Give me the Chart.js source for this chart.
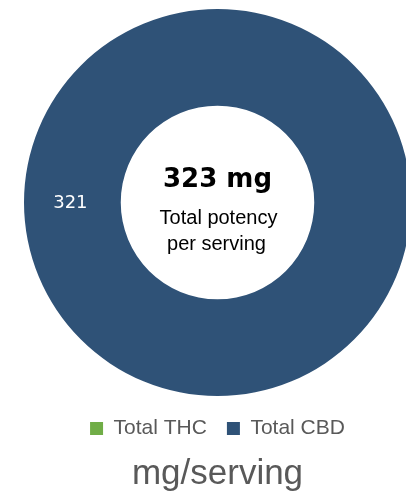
<!DOCTYPE html>
<html>
<head>
<meta charset="utf-8">
<script src="https://cdn.jsdelivr.net/npm/chart.js@4.4.0/dist/chart.umd.min.js"></script>
<style>
  html, body { margin: 0; padding: 0; background: #fff; overflow: hidden; }
  #wrap { width: 412px; height: 495px; }
</style>
</head>
<body>
<div id="wrap"><canvas id="potencyChart"></canvas></div>
<script>
var labels = ['Total THC', 'Total CBD'];
var values = [0, 321];
var colors = ['#70AD47', '#2F5277'];
var totalText = '323 mg';
var subText = ['Total potency', 'per serving'];

// numbers on the ring
var ringLabels = {
    id: 'ringLabels',
    afterDatasetsDraw: function(chart) {
        var ctx = chart.ctx;
        var meta = chart.getDatasetMeta(0);
        ctx.save();
        ctx.fillStyle = '#ffffff';
        ctx.font = '18px "DejaVu Sans"';
        ctx.textAlign = 'center';
        ctx.textBaseline = 'middle';
        meta.data.forEach(function(arc, i) {
            if (!values[i]) return;
            var p = arc.getCenterPoint();
            ctx.fillText(values[i], p.x - 2, p.y + 1);
        });
        ctx.restore();
    }
};

// text in the hole
var centerText = {
    id: 'centerText',
    afterDraw: function(chart) {
        var ctx = chart.ctx;
        var arc = chart.getDatasetMeta(0).data[0];
        var x = arc.x, y = arc.y;
        ctx.save();
        ctx.fillStyle = '#000000';
        ctx.textAlign = 'center';
        ctx.textBaseline = 'middle';
        ctx.font = 'bold 26px "DejaVu Sans"';
        ctx.fillText(totalText, x, y - 22);
        ctx.font = '20px "Liberation Sans"';
        ctx.fillText(subText[0], x + 1, y + 16);
        ctx.fillText(subText[1], x - 1, y + 42);
        ctx.restore();
    }
};

var potencyChart = new Chart(document.getElementById('potencyChart'), {
    type: 'doughnut',
    data: {
        labels: labels,
        datasets: [{
            data: values,
            backgroundColor: colors,
            borderWidth: 0
        }]
    },
    options: {
        responsive: true,
        maintainAspectRatio: false,
        animation: false,
        cutout: '50%',
        rotation: 90,
        layout: {
            padding: { top: 7, left: 24, right: 1, bottom: 0 }
        },
        plugins: {
            tooltip: { enabled: false },
            legend: {
                position: 'bottom',
                labels: {
                    color: '#595959',
                    boxWidth: 13,
                    boxHeight: 13,
                    padding: 20,
                    font: { family: 'Liberation Sans', size: 21 }
                }
            },
            title: {
                display: true,
                position: 'bottom',
                text: 'mg/serving',
                color: '#595959',
                padding: { top: 4, bottom: 0 },
                font: { family: 'Liberation Sans', size: 35, weight: 'normal' }
            }
        }
    },
    plugins: [ringLabels, centerText]
});
</script>
</body>
</html>
